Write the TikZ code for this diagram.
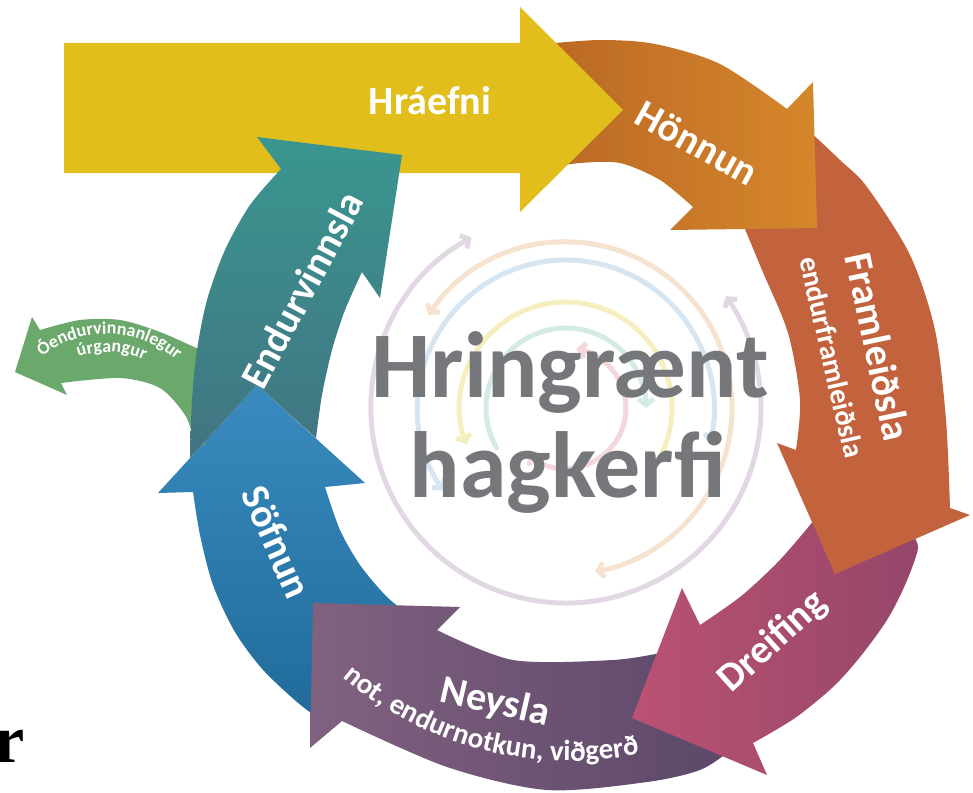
\documentclass[tikz,border=0pt]{standalone}
\usepackage{fontspec}
\setmainfont{Carlito}
\newfontfamily\timesfont{Liberation Serif}
\usetikzlibrary{arrows.meta,decorations.text}

\definecolor{hraefni}{HTML}{E2BE1C}
\definecolor{honnun}{HTML}{D5872A}
\definecolor{honnundark}{HTML}{BA6826}
\definecolor{framleidsla}{HTML}{C2633D}
\definecolor{dreifing}{HTML}{BA5272}
\definecolor{dreifingdark}{HTML}{95466A}
\definecolor{neysla}{HTML}{816180}
\definecolor{neysladark}{HTML}{5C4869}
\definecolor{sofnun}{HTML}{3A8BC0}
\definecolor{sofnundark}{HTML}{206B9A}
\definecolor{endur}{HTML}{3A9690}
\definecolor{endurdark}{HTML}{417482}
\definecolor{urgangur}{HTML}{6BA86B}
\definecolor{titlegray}{HTML}{76777B}
\definecolor{swlav}{HTML}{E2D8E4}
\definecolor{swpeach}{HTML}{F5E3CF}
\definecolor{swblue}{HTML}{D5E5F1}
\definecolor{swyellow}{HTML}{F7EEC0}
\definecolor{swteal}{HTML}{D4EAE7}
\definecolor{swpink}{HTML}{F3D7DB}

\newcommand\subfont{\bfseries\fontsize{29}{29}\selectfont}
\newcommand\urgfont{\bfseries\fontsize{18}{18}\selectfont}

\begin{document}
\begin{tikzpicture}[x=1pt, y=-1pt,
    >={Straight Barb[length=6pt,width=15pt]},
    steptext/.style={text=white, inner sep=0pt, font=\bfseries\fontsize{40}{40}\selectfont},
    subtext/.style={text=white, inner sep=0pt, font=\subfont},
    swirl/.style={line width=5pt, line cap=round},
    titletext/.style={text=titlegray, inner sep=0pt, anchor=base, font=\bfseries\fontsize{94}{94}\selectfont}]
\useasboundingbox (0,0) rectangle (973,792);
\coordinate (ring) at (570,410);
\coordinate (mid) at (566,408);
\coordinate (urg) at (107,440);

% faint spiral in the middle
\draw[swirl, swlav, <->] ([shift={(241:195)}]mid) arc[start angle=241, end angle=-35, radius=195];
\draw[swirl, swpeach, <->] ([shift={(214:166)}]mid) arc[start angle=214, end angle=440, radius=166];
\draw[swirl, swblue, <->] ([shift={(146:148)}]mid) arc[start angle=146, end angle=374, radius=148];
\draw[swirl, swyellow, <-] ([shift={(160:106)}]mid) arc[start angle=160, end angle=400, radius=106];
\draw[swirl, swteal, ->] ([shift={(150:80)}]mid) arc[start angle=150, end angle=360, radius=80];
\draw[swirl, swpink, <->] ([shift={(130:60)}]mid) arc[start angle=130, end angle=-80, radius=60];

% Söfnun
\shade[top color=sofnun, bottom color=sofnundark]
  plot[smooth] coordinates {(405,612) (385,595) (360,565) (340,530) (325,487)}
  -- (365,483) -- (257,385) -- (158,493) -- (193,492)
  -- plot[smooth] coordinates {(193,492) (200,535) (213,585) (235,632) (265,672) (310,712) (322,705)} -- cycle;
% Neysla
\shade[left color=neysla, right color=neysladark]
  plot[smooth] coordinates {(728,752) (700,770) (647,782) (547,790) (447,767) (342,721)}
  -- (310,748) -- (313,603) -- (460,607) -- (437,630)
  -- plot[smooth] coordinates {(437,630) (513,660) (613,660) (665,652)} -- cycle;
% Dreifing
\shade[left color=dreifing, right color=dreifingdark]
  plot[smooth] coordinates {(818,515) (800,537) (775,565) (740,597) (700,625)}
  -- (682,588) -- (632,718) -- (767,775) -- (753,743)
  -- plot[smooth] coordinates {(753,743) (795,718) (833,687) (860,657) (887,620) (905,585) (918,548) (910,532)} -- cycle;
% Framleiðsla
\fill[framleidsla]
  plot[smooth] coordinates {(806,128) (840,160) (867,187) (910,255) (935,330) (946,420) (950,508)}
  -- (970,515) -- (835,574) -- (777,443) -- (796,450)
  -- plot[smooth] coordinates {(796,450) (800,400) (788,333) (762,270) (742,222)} -- cycle;
% Hönnun
\shade[left color=honnundark, middle color=honnun, right color=honnun]
  plot[smooth] coordinates {(545,44) (600,40) (655,44) (720,64) (787,109)}
  -- (813,82) -- (817,228) -- (670,230) -- (693,207)
  -- plot[smooth] coordinates {(693,207) (660,180) (620,163) (580,163) (548,168)} -- cycle;
% Hráefni
\fill[hraefni] (64,43) -- (520,43) -- (520,7) -- (623,110) -- (520,212) -- (520,173) -- (64,173) -- cycle;
% Óendurvinnanlegur úrgangur
\fill[urgangur]
  plot[smooth] coordinates {(205,352) (160,332) (120,320) (80,320) (40,330)}
  -- (32,317) -- (15,372) -- (67,395) -- (61,383)
  -- plot[smooth] coordinates {(61,383) (120,378) (160,388) (185,415) (195,440) (205,445)} -- cycle;
% Endurvinnsla
\shade[top color=endur, middle color=endur, bottom color=endurdark]
  (190,458) -- (257,385) -- (316,438)
  -- plot[smooth] coordinates {(316,438) (322,395) (332,350) (345,310) (362,272)}
  -- (380,298) -- (402,155) -- (257,137) -- (281,169)
  -- plot[smooth] coordinates {(281,169) (250,205) (225,250) (207,300) (197,350) (192,400) (190,458)} -- cycle;

% labels
\node[steptext] (hraefnitext) at (430,101) {Hráefni};
\node[steptext, rotate=-29] (honnuntext) at (697,143) {Hönnun};
\node[steptext, rotate=-78] (framltext) at (878,347) {Framleiðsla};
\node[subtext, rotate=-77] (endurframltext) at (832,357) {endurframleiðsla};
\node[steptext, rotate=42] (dreifingtext) at (773,642) {Dreifing};
\node[steptext, rotate=-13] (neyslatext) at (495,703) {Neysla};
\node[steptext, rotate=-66] (sofnuntext) at (277,542) {Söfnun};
\node[steptext, rotate=62] (endurtext) at (302,290) {Endurvinnsla};
\path[decorate, decoration={text along path, text align=center, text color=white,
    text={|\subfont|not, endurnotkun, viðgerð}}]
  ([shift={(133:351)}]ring) arc[start angle=133, end angle=76, radius=351];
\path[decorate, decoration={text along path, text align=center, text color=white,
    text={|\urgfont|Óendurvinnanlegur}}]
  ([shift={(-135:106)}]urg) arc[start angle=-135, end angle=-42, radius=106];
\path[decorate, decoration={text along path, text align=center, text color=white,
    text={|\urgfont|úrgangur}}]
  ([shift={(-120:88)}]urg) arc[start angle=-120, end angle=-54, radius=88];

% title
\node[titletext] (hring) at (570,397) {Hringrænt};
\node[titletext] (hag) at (568,497) {hagkerfi};

\node[anchor=base west, inner sep=0pt, font=\timesfont\bfseries\fontsize{68}{68}\selectfont] (rcut) at (-6,762) {r};
\end{tikzpicture}
\end{document}
